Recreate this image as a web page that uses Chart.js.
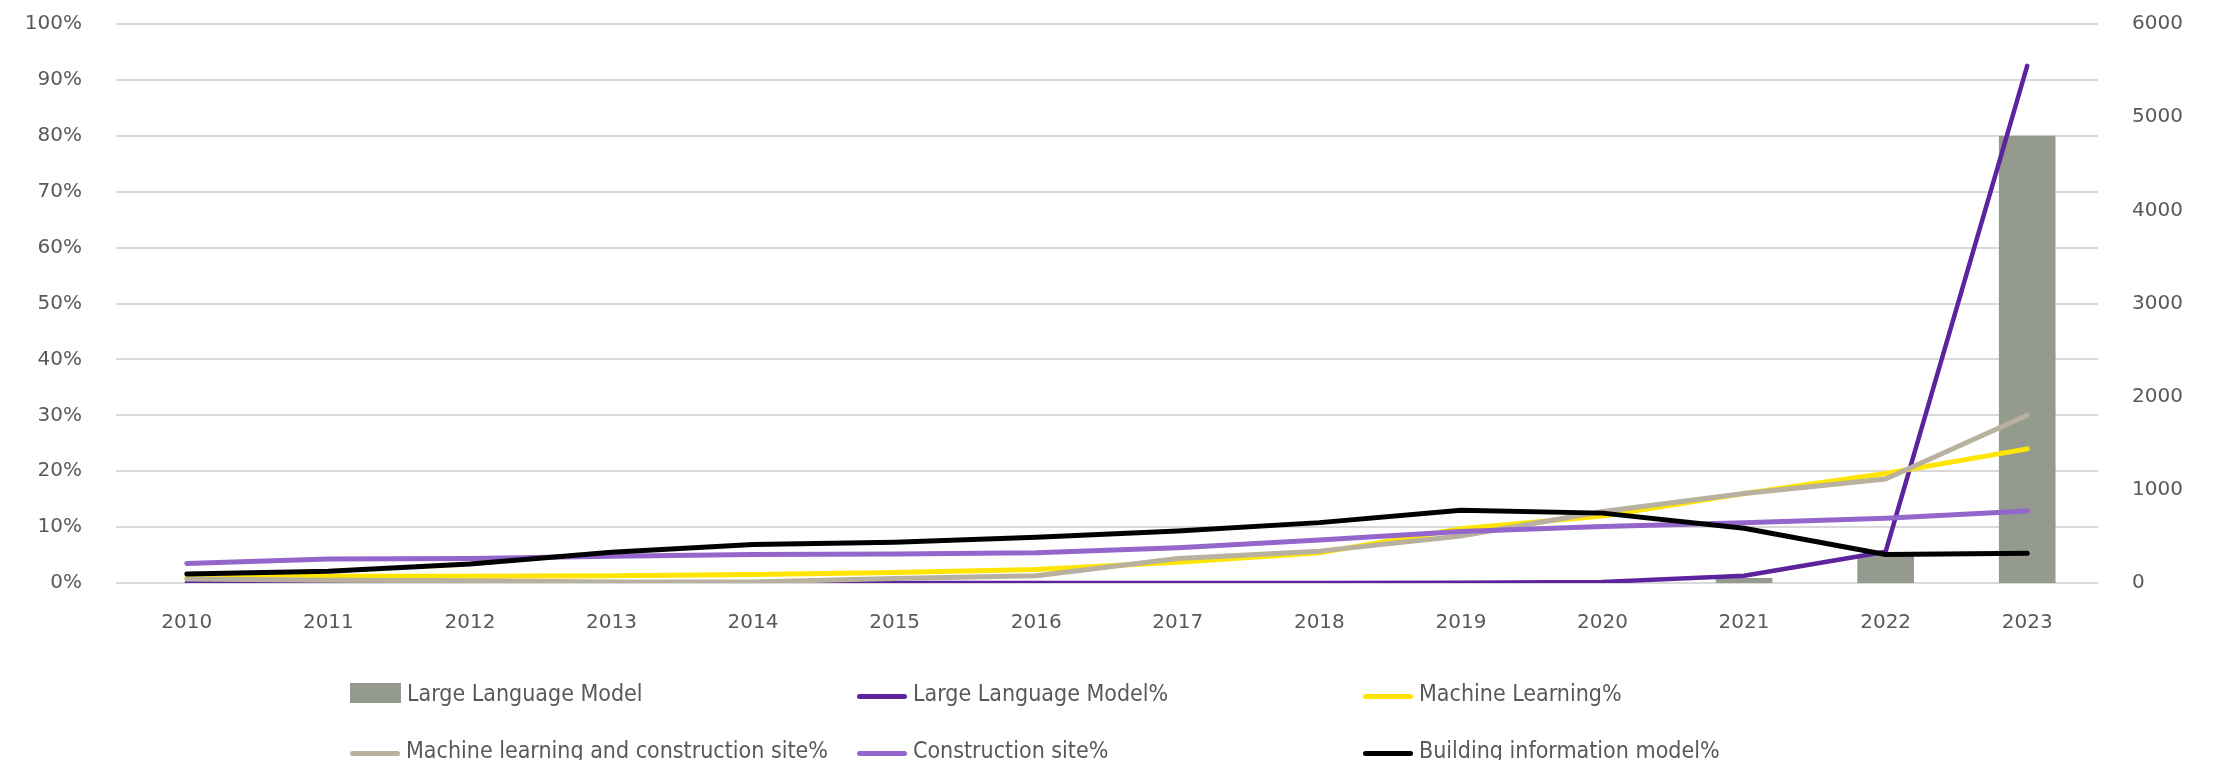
<!DOCTYPE html>
<html>
<head>
<meta charset="utf-8">
<script src="https://cdn.jsdelivr.net/npm/chart.js@4.4.0/dist/chart.umd.min.js"></script>
<style>
  html, body { margin: 0; padding: 0; background: #fff; }
  #wrap { position: relative; width: 2221px; height: 760px; }
  #chart { position: absolute; left: 0; top: 0; }
  .legend-item { position: absolute; display: flex; align-items: center; white-space: nowrap;
    font-family: "Liberation Sans Narrow", "DejaVu Sans Condensed", sans-serif; font-size: 23px; color: #595959; }
  .legend-item .sw { margin-right: 6px; }
</style>
</head>
<body>
<div id="wrap">
  <canvas id="chart" width="2221" height="760"></canvas>
  <div id="legend"></div>
</div>
<script>
// years on the x axis
const years = ['2010','2011','2012','2013','2014','2015','2016','2017','2018','2019','2020','2021','2022','2023'];

// publication counts (right axis)
const llmCount = [0, 0, 0, 0, 0, 0, 0, 0, 0, 0, 0, 55, 300, 4800];

// shares in percent (left axis)
const llmPct = [0, 0, 0, 0, 0, 0, 0, 0, 0, 0.05, 0.2, 1.3, 5.6, 92.5];
const mlPct = [1.0, 1.2, 1.2, 1.3, 1.5, 1.9, 2.4, 3.7, 5.4, 9.7, 12.0, 16.0, 19.6, 24.0];
const mlSitePct = [0.7, 0.5, 0.4, 0.2, 0.2, 0.8, 1.3, 4.4, 5.7, 8.4, 12.8, 16.0, 18.6, 30.0];
const sitePct = [3.5, 4.3, 4.4, 4.8, 5.1, 5.2, 5.4, 6.3, 7.7, 9.2, 10.1, 10.8, 11.6, 12.9];
const bimPct = [1.6, 2.1, 3.4, 5.5, 6.9, 7.3, 8.2, 9.3, 10.8, 13.0, 12.5, 9.8, 5.1, 5.3];

// axis ticks
const pctTicks = [0, 10, 20, 30, 40, 50, 60, 70, 80, 90, 100];
const countTicks = [0, 1000, 2000, 3000, 4000, 5000, 6000];

const tickColor = '#595959';
const tickFont = { family: 'DejaVu Sans', size: 20 };

function lineSet(label, data, color, width, order) {
    return {
        type: 'line',
        label: label,
        data: data,
        borderColor: color,
        backgroundColor: color,
        borderWidth: width,
        borderCapStyle: 'round',
        borderJoinStyle: 'round',
        pointRadius: 0,
        tension: 0,
        fill: false,
        yAxisID: 'y',
        order: order
    };
}

// fixed axis widths, and no extra top/bottom padding from the tick labels
function fixWidth(w) {
    return s => {
        s.width = w;
        s.paddingTop = 0;
        s.paddingBottom = 0;
    };
}

const datasets = [
    {
        type: 'bar',
        label: 'Large Language Model',
        data: llmCount,
        backgroundColor: '#959a8f',
        yAxisID: 'y1',
        barPercentage: 0.4,
        categoryPercentage: 1,
        order: 10
    },
    lineSet('Large Language Model%', llmPct, '#5b239c', 4.5, 5),
    lineSet('Machine Learning%', mlPct, '#ffe500', 5, 4),
    lineSet('Machine learning and construction site%', mlSitePct, '#b8b19f', 5, 3),
    lineSet('Construction site%', sitePct, '#9466cc', 5, 2),
    lineSet('Building information model%', bimPct, '#000000', 5, 1)
];

const chart = new Chart(document.getElementById('chart').getContext('2d'), {
    data: { labels: years, datasets: datasets },
    options: {
        responsive: false,
        animation: false,
        devicePixelRatio: 1,
        layout: { padding: { top: 24, left: 0, right: 0, bottom: 0 } },
        plugins: { legend: { display: false }, tooltip: { enabled: false } },
        scales: {
            x: {
                grid: { display: false, drawTicks: false },
                border: { display: false },
                ticks: { color: tickColor, font: tickFont, padding: 28, maxRotation: 0 },
                afterFit: s => { s.height = 177; }
            },
            y: {
                position: 'left',
                min: pctTicks[0],
                max: pctTicks[pctTicks.length - 1],
                afterBuildTicks: s => { s.ticks = pctTicks.map(v => ({ value: v })); },
                grid: { color: '#d9d9d9', lineWidth: 2, drawTicks: false },
                border: { display: false },
                ticks: { color: tickColor, font: tickFont, padding: 34, callback: v => v + '%' },
                afterFit: fixWidth(116)
            },
            y1: {
                position: 'right',
                min: countTicks[0],
                max: countTicks[countTicks.length - 1],
                afterBuildTicks: s => { s.ticks = countTicks.map(v => ({ value: v })); },
                grid: { display: false, drawTicks: false },
                border: { display: false },
                ticks: { color: tickColor, font: tickFont, padding: 34, callback: v => String(v) },
                afterFit: fixWidth(123)
            }
        }
    }
});

// html legend laid out in three columns like the original
const legendCols = [350, 857, 1363];
const legendRows = [693, 750];
const legendBox = document.getElementById('legend');
chart.data.datasets.forEach((ds, i) => {
    const item = document.createElement('div');
    item.className = 'legend-item';
    item.style.left = legendCols[i % 3] + 'px';
    item.style.top = (legendRows[Math.floor(i / 3)] - 15) + 'px';
    item.style.height = '30px';
    const sw = document.createElement('span');
    sw.className = 'sw';
    if (ds.type === 'bar') {
        sw.style.cssText = 'display:inline-block;width:51px;height:20px;background:' + ds.backgroundColor;
    } else {
        sw.style.cssText = 'display:inline-block;width:50px;height:5px;border-radius:3px;margin-top:6px;background:' + ds.borderColor;
    }
    item.appendChild(sw);
    item.appendChild(document.createTextNode(ds.label));
    legendBox.appendChild(item);
});
</script>
</body>
</html>
